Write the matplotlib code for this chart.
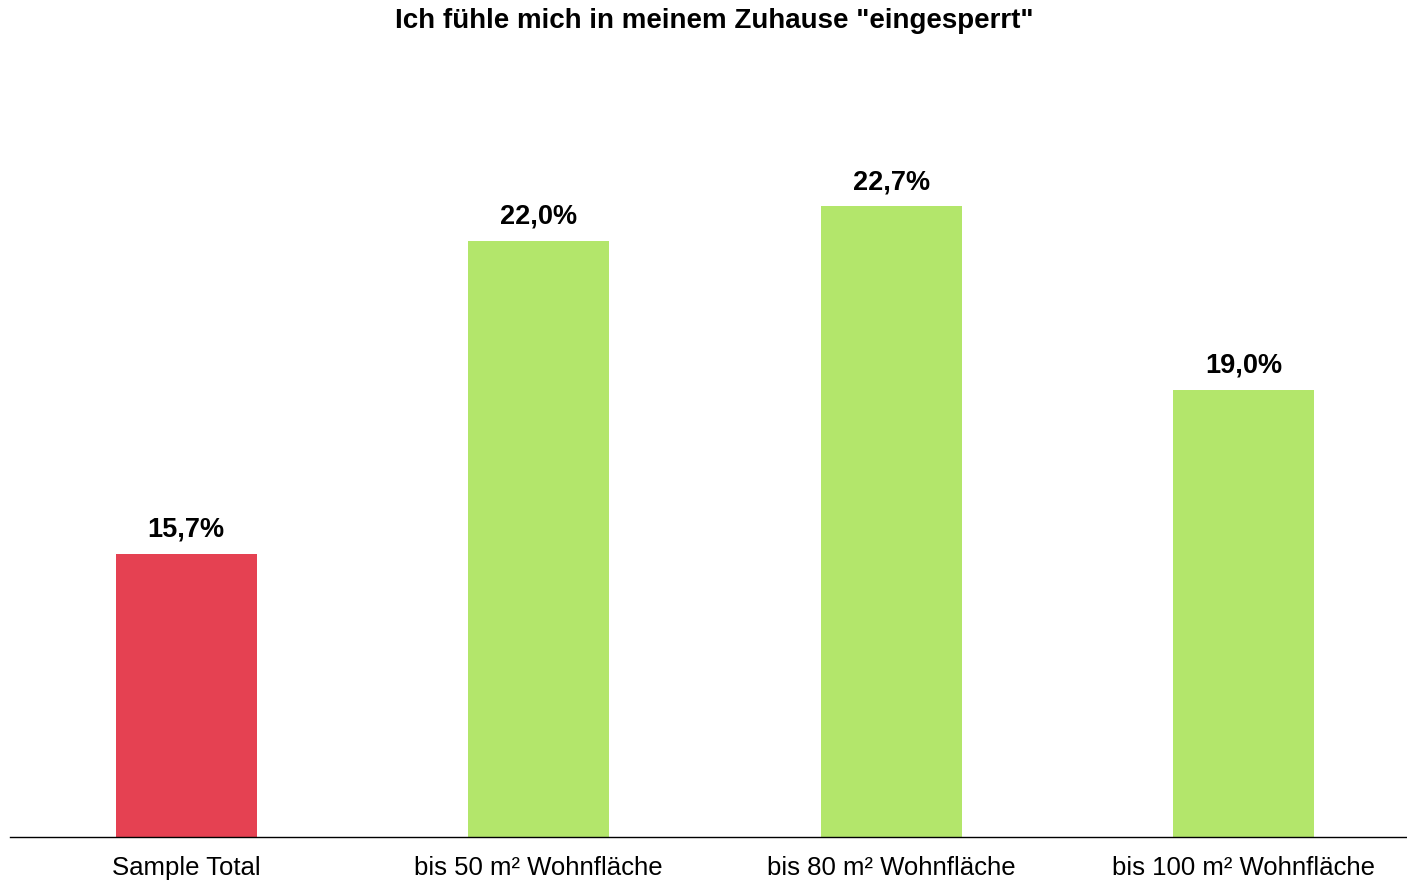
import matplotlib.pyplot as plt

plt.rcParams['font.family'] = ['Liberation Sans', 'DejaVu Sans']

categories = ["Sample Total", "bis 50 m² Wohnfläche", "bis 80 m² Wohnfläche", "bis 100 m² Wohnfläche"]
values = [15.7, 22.0, 22.7, 19.0]
labels = ["15,7%", "22,0%", "22,7%", "19,0%"]
colors = ["#E54152", "#B3E66B", "#B3E66B", "#B3E66B"]

fig = plt.figure(figsize=(14.07, 8.8), dpi=100)
ax = fig.add_axes([10 / 1407, 1 - 837 / 880, 1397 / 1407, (837 - 92) / 880])

x = range(len(categories))
bars = ax.bar(x, values, width=0.4, color=colors, bottom=0)
ax.set_ylim(10, 25)
ax.set_xlim(-0.5, 3.463)

for b, lab in zip(bars, labels):
    ax.annotate(lab, (b.get_x() + b.get_width() / 2, b.get_height()),
                xytext=(0, 8), textcoords="offset points",
                ha="center", va="bottom", fontsize=19.5, fontweight="bold")

ax.set_xticks(list(x))
ax.set_xticklabels(categories, fontsize=18.5)
ax.tick_params(axis="x", length=0, pad=14)
ax.set_yticks([])
for s in ["top", "right", "left"]:
    ax.spines[s].set_visible(False)
ax.spines["bottom"].set_color("black")
ax.spines["bottom"].set_linewidth(1)

fig.text(714 / 1407, 1 - 21 / 880, 'Ich fühle mich in meinem Zuhause "eingesperrt"',
         ha="center", va="center", fontsize=20, fontweight="bold")

fig.savefig("out.png", dpi=100)
